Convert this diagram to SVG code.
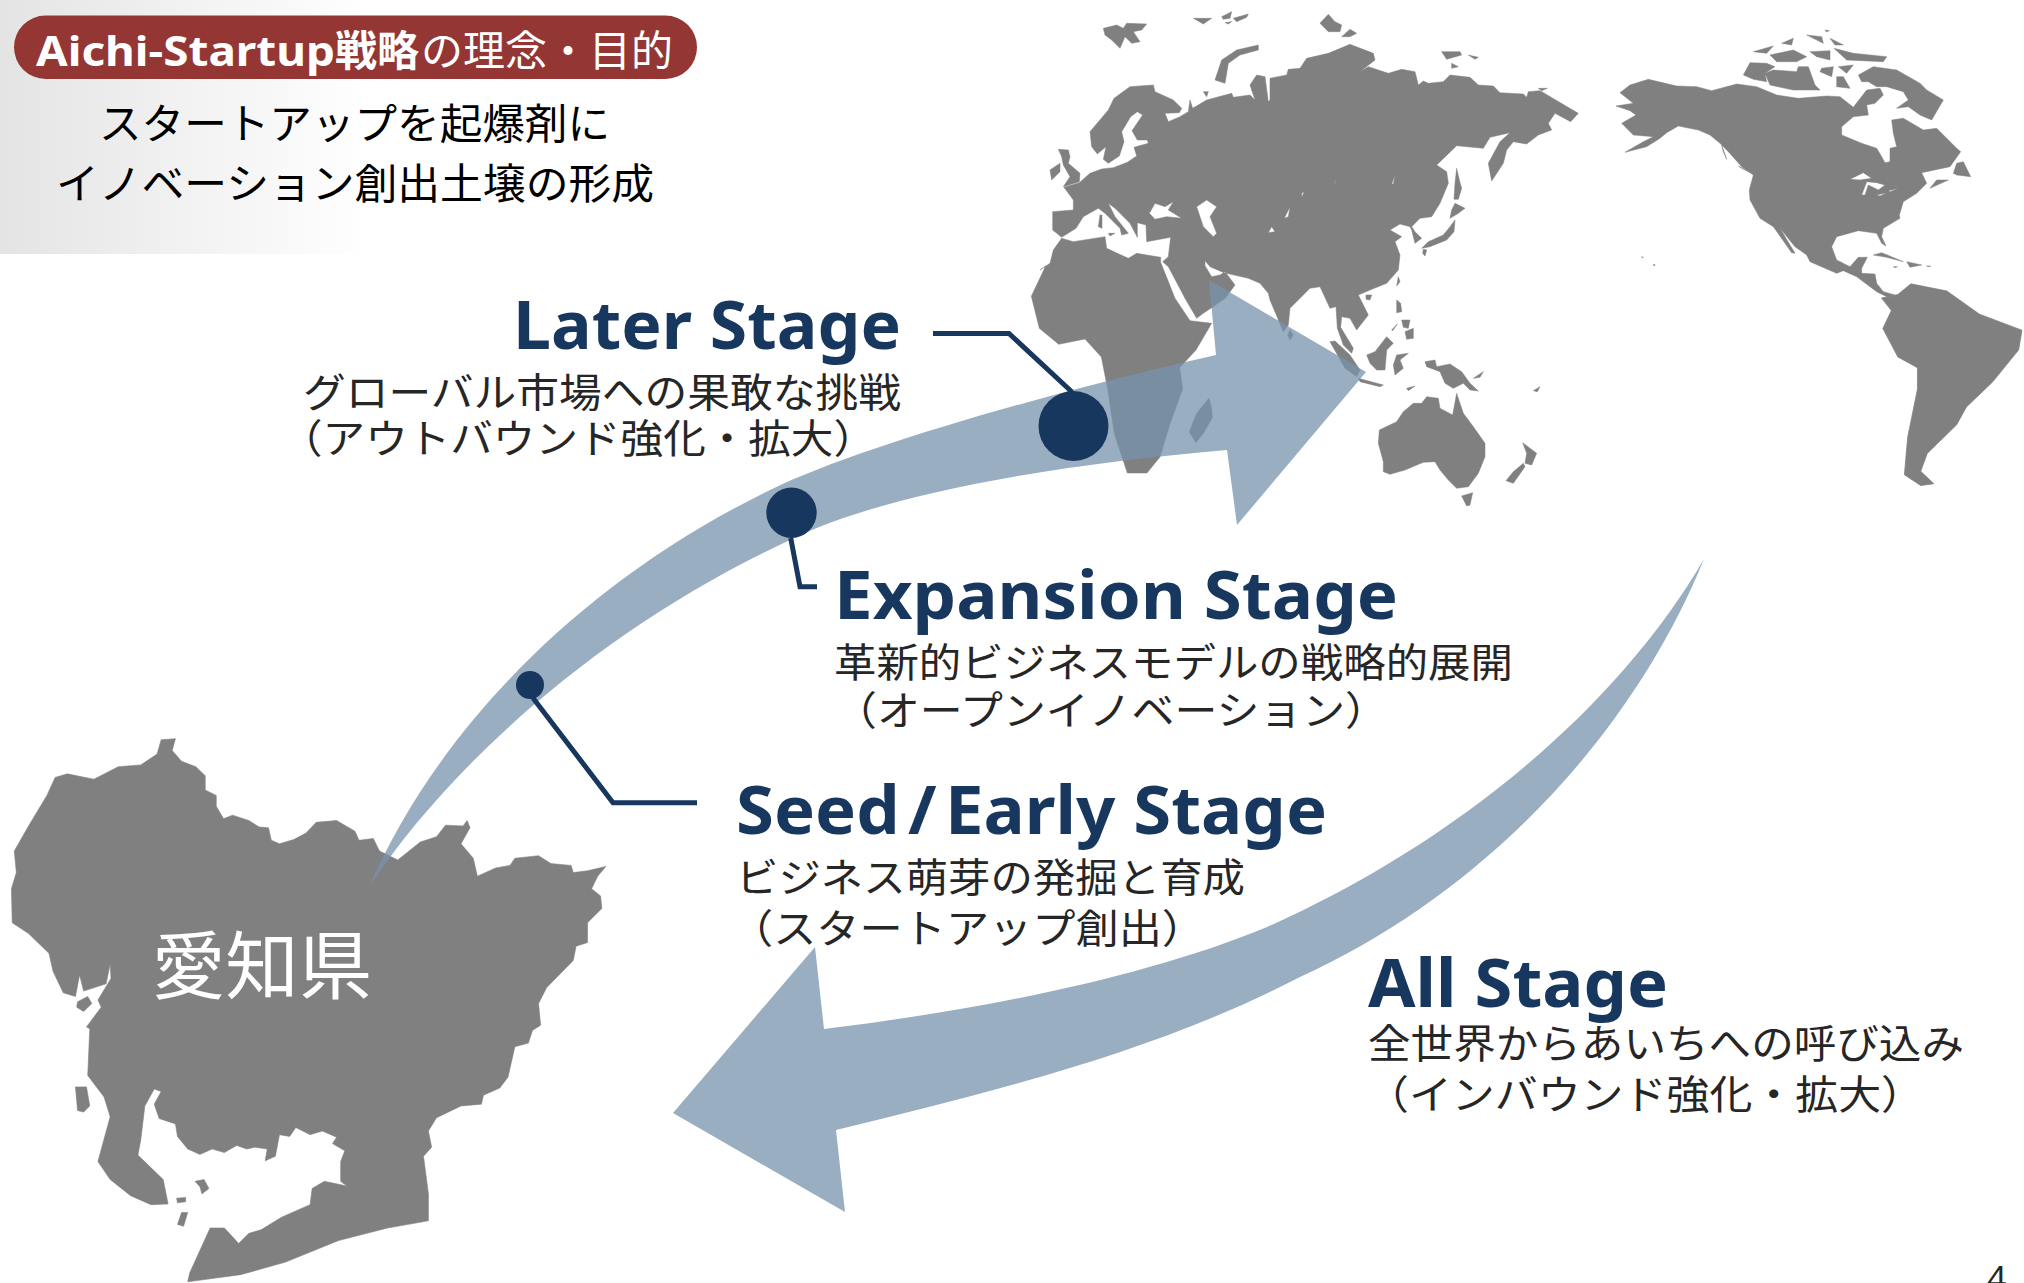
<svg xmlns="http://www.w3.org/2000/svg" width="2024" height="1283" viewBox="0 0 2024 1283">
<style>
.land{fill:#808080;stroke:#808080;stroke-width:1.500;stroke-linejoin:round}
.arrow{fill:#7893ac;fill-opacity:.75}
.leader{fill:none;stroke:#17375e;stroke-width:5}
.dot{fill:#17375e}
.stage{font-family:"Noto Sans","Noto Sans CJK JP",sans-serif;font-weight:700;font-size:66px;fill:#17375e}
.sub{font-family:"Noto Sans CJK JP",sans-serif;font-size:40px;fill:#262626}
.lead{font-family:"Noto Sans CJK JP",sans-serif;font-size:42px;fill:#000}
</style>
<defs>
<linearGradient id="fade" x1="0" y1="0" x2="1" y2="0"><stop offset="0" stop-color="#e4e4e4"/><stop offset="1" stop-color="#fff"/></linearGradient>
</defs>
<rect id="header-band" x="0" y="0" width="370" height="254" fill="url(#fade)"/>
<g id="header-pill">
<rect x="14" y="15.500" width="683" height="63.500" rx="31.700" fill="#943634"/>
<text y="66" font-size="42" fill="#fff" font-family="'Noto Sans','Noto Sans CJK JP',sans-serif"><tspan x="36" font-weight="700" textLength="299" lengthAdjust="spacingAndGlyphs">Aichi-Startup</tspan><tspan x="335" font-weight="700">戦略</tspan><tspan x="421" font-family="'Noto Sans CJK JP',sans-serif" font-weight="400">の理念・目的</tspan></text>
</g>
<g id="header-text">
<text class="lead" x="99" y="139" textLength="511" lengthAdjust="spacingAndGlyphs">スタートアップを起爆剤に</text>
<text class="lead" x="56" y="199" textLength="598" lengthAdjust="spacingAndGlyphs">イノベーション創出土壌の形成</text>
</g>
<g id="world-map">
<g class="land" transform="translate(1040 0) scale(.33333)">
<path fill-rule="evenodd" d="M38,635L100,630L100,600L72,562L118,548L150,520L185,507L220,503L262,487L290,468L282,442L325,430L322,420L292,420L276,392L308,345L292,335L272,350L245,395L252,425L238,468L205,490L190,478L198,440L172,462L155,440L150,395L205,330L222,295L270,260L340,255L345,275L400,300L425,325L418,338L375,340L385,365L420,350L445,335L450,300L458,325L500,300L575,280L580,292L630,285L645,300L630,255L650,225L675,230L685,305L690,300L690,235L740,225L745,208L780,205L800,175L865,160L930,133L1000,160L1005,180L960,215L985,200L1045,220L1085,208L1125,215L1135,255L1150,243L1165,250L1210,245L1230,225L1290,232L1315,255L1360,258L1380,278L1450,282L1460,292L1465,275L1500,272L1615,340L1592,365L1545,340L1525,370L1535,390L1495,405L1460,432L1420,425L1400,450L1390,490L1355,543L1345,490L1380,425L1410,398L1380,405L1350,412L1330,445L1250,437L1190,495L1220,515L1225,550L1200,610L1175,650L1140,655L1115,680L1125,695L1145,715L1125,730L1115,690L1110,680L1080,672L1050,690L1085,710L1065,725L1080,765L1075,810L1040,850L990,870L955,885L985,945L950,990L930,955L905,950L902,982L940,1045L935,1060L910,1035L892,985L888,920L870,925L840,860L810,865L750,925L745,975L730,995L690,900L685,880L660,850L625,835L560,820L545,815L510,800L495,782L495,797L515,830L540,825L555,815L585,855L556,895L487,942L470,955L435,895L385,800L368,785L385,770L392,712L320,725L318,675L292,668L292,712L270,670L225,625L205,610L225,650L265,700L245,705L240,685L195,640L175,625L130,650L108,685L65,712L38,690Z M345,610L375,620L400,605L385,630L425,655L380,650L345,658L328,640Z M470,620L500,600L530,620L510,650L530,700L520,710L490,680L480,650Z M733,655L750,620L745,650Z M785,580L792,575L786,592Z M695,680L705,695L685,698Z M883,550L890,537L885,550Z M1065,525L1055,553L1060,552Z"/>
<path d="M0,810L30,790L40,750L65,715L100,725L195,710L200,745L265,775L290,760L362,772L362,787L405,895L450,962L515,970L468,1050L419,1103L428,1167L389,1274L360,1371L321,1419L262,1419L223,1301L203,1167L184,1071L135,1017L56,1033L-2,985L-26,889L17,798Z"/>
<path d="M190,85L230,75L250,85L260,70L320,72L305,90L280,95L300,125L275,130L255,110L240,145L215,120L195,105Z M460,55L515,55L490,72Z M545,50L575,35L570,55L550,58Z M555,68L575,65L565,72Z M580,55L625,42L620,52L590,65Z M655,135L655,150L600,165L565,190L555,250L525,240L545,180L590,150Z M490,275L505,275L500,290Z M840,70L865,43L885,65L905,75L900,95L865,95Z M905,110L930,88L950,100L930,110Z M1205,155L1260,155L1265,165L1220,178Z M1235,190L1255,200L1235,205Z M1285,165L1315,172L1305,178Z M1495,265L1522,265L1505,272Z M55,448L85,450L90,470L85,490L120,520L118,545L70,560L90,530L70,495L65,470Z M30,510L60,490L60,515L35,540Z M180,645L186,645L186,685L175,680Z M205,700L225,700L210,708Z M1250,505L1258,540L1265,565L1255,598L1242,598L1245,550Z M1245,610L1275,625L1255,640L1230,655L1235,630Z M1245,660L1242,695L1220,720L1170,740L1145,745L1165,725L1210,705L1230,680Z M1150,748L1160,750L1155,768L1148,760Z M1075,830L1080,845L1070,858Z M978,885L995,885L990,900L978,898Z M1070,900L1082,910L1085,935L1070,938Z M1095,995L1120,985L1120,1015L1100,1018Z M1085,960L1110,960L1105,985L1090,982Z M1055,990L1072,972L1058,992Z M870,1025L885,1023L930,1065L960,1110L950,1130L915,1105Z M955,1135L1030,1155L1020,1160L960,1145Z M1100,1165L1125,1158L1105,1172Z M980,1065L1005,1055L1040,1010L1060,1030L1040,1050L1035,1110L1010,1110L990,1090Z M1070,1065L1105,1060L1080,1080L1090,1105L1065,1125L1060,1095Z M1155,1085L1185,1080L1190,1100L1230,1092L1265,1115L1290,1150L1315,1173L1290,1170L1270,1150L1240,1165L1215,1150L1200,1115L1160,1100Z M1300,1135L1330,1115L1320,1132Z M1480,1172L1500,1160L1492,1175Z M1018,1290L1070,1265L1090,1235L1120,1210L1145,1210L1160,1190L1195,1195L1200,1225L1238,1245L1250,1180L1270,1240L1300,1280L1335,1330L1335,1370L1315,1420L1285,1460L1250,1465L1225,1440L1200,1410L1185,1385L1150,1387L1095,1410L1050,1423L1030,1415L1030,1385L1015,1330Z M1265,1488L1298,1478L1290,1515L1280,1518Z M1448,1328L1490,1360L1475,1395L1455,1390L1460,1360Z M1450,1390L1455,1400L1420,1450L1398,1442L1420,1415Z M507,1194L515,1225L517,1253L490,1300L468,1328L448,1296L470,1240Z M750,990L760,1005L750,1020L743,1005Z"/>
</g>
<g class="land" transform="translate(1610 20) scale(.33333)">
<path fill-rule="evenodd" d="M30,218L60,195L115,178L200,198L260,200L305,212L380,192L440,200L500,225L565,235L650,228L690,230L730,262L770,210L810,205L820,225L795,250L770,255L775,285L730,290L695,320L695,345L755,370L800,385L812,405L825,428L840,425L840,385L860,380L850,340L845,300L880,295L940,330L980,325L1040,385L1052,395L1020,440L935,458L950,490L920,520L880,545L868,585L870,595L820,625L815,650L828,678L815,670L800,640L745,632L680,650L665,680L680,720L720,740L745,712L772,712L755,745L755,760L795,762L800,790L820,815L855,825L830,830L800,815L740,770L700,752L680,760L600,725L590,705L555,680L510,625L555,700L545,698L490,620L450,595L420,540L418,510L430,465L395,440L355,395L330,370L300,345L265,330L205,318L170,338L150,355L110,380L45,397L100,365L130,350L70,345L35,310L78,285L60,272L18,258L70,250Z M720,478L760,458L785,475L750,480Z M755,525L770,485L800,488L825,495L805,510L775,495L765,525Z M800,525L830,518L810,528Z M835,512L865,505L840,515Z M385,438L430,462L395,445Z M335,375L350,418L340,395Z"/>
<path d="M400,165L420,128L470,130L495,140L465,160L470,185L430,178Z M465,160L490,150L560,155L565,140L595,140L615,195L630,210L550,210L480,195Z M680,170L700,170L720,205L680,200Z M635,145L670,140L665,170L630,155Z M685,140L730,135L710,160Z M430,95L490,78L470,100Z M480,105L550,90L590,110L560,125L500,125Z M600,95L660,92L660,120L620,110Z M515,70L550,55L545,75Z M590,45L635,50L640,70Z M660,55L700,75L675,75Z M672,85L730,100L830,110L820,125L710,120Z M745,165L790,140L860,150L930,190L950,210L1000,240L965,300L930,285L895,260L860,265L895,240L880,215L830,200L800,200L775,185L755,185Z M1040,430L1060,425L1082,470L1040,465L1030,460Z M960,505L1015,480L980,480Z M790,705L815,698L880,725L830,712Z M890,725L935,735L900,742Z M850,740L862,740L856,743Z M950,738L962,738L956,740Z M95,710L100,712L98,714Z M130,733L136,735L131,737Z M645,30L658,32L650,36Z"/>
</g>
<g class="land" transform="translate(1000 0) scale(.653 .357)">
<path d="M1375,825L1395,795L1450,815L1500,880L1565,925L1560,980L1520,1070L1480,1140L1465,1190L1420,1270L1410,1320L1430,1355L1410,1360L1385,1330L1390,1225L1405,1090L1405,1030L1375,1000L1352,920L1365,870L1350,835Z"/>
</g>
</g>
<g id="aichi-map">
<g class="land" transform="translate(0 720) scale(.408 .359)">
<path d="M395,55L430,52L422,85L445,115L480,130L503,155L503,195L530,210L530,240L548,275L570,265L610,280L635,298L658,300L665,335L685,345L720,333L750,315L775,285L825,280L870,310L880,335L915,330L930,365L975,390L1030,340L1070,325L1092,293L1135,295L1145,280L1152,300L1130,345L1160,385L1170,435L1215,412L1250,405L1262,385L1320,378L1350,400L1400,405L1405,425L1440,420L1485,408L1465,435L1450,470L1472,490L1475,525L1440,565L1440,620L1412,630L1405,670L1375,705L1340,745L1320,790L1325,850L1305,865L1295,900L1262,910L1245,995L1225,1025L1185,1045L1180,1070L1130,1075L1070,1108L1050,1145L1058,1190L1038,1215L1050,1320L1050,1395L950,1415L830,1450L700,1510L590,1545L460,1565L465,1540L515,1415L550,1415L585,1458L610,1430L640,1420L690,1385L760,1350L765,1305L795,1285L850,1298L835,1285L835,1230L845,1200L815,1180L825,1162L790,1145L760,1155L725,1135L710,1160L685,1155L675,1215L650,1228L655,1195L625,1190L605,1195L580,1185L550,1205L520,1195L490,1210L460,1195L435,1160L430,1125L390,1110L378,1070L395,1035L378,1028L355,1075L345,1170L338,1212L400,1280L412,1348L370,1350L320,1325L270,1280L240,1230L270,1105L255,1050L215,990L220,860L212,855L248,800L240,780L272,720L270,680L260,735L205,755L195,710L185,770L155,760L130,700L120,650L70,595L30,565L28,470L40,425L35,365L70,295L115,210L135,160L165,150L230,165L290,130L345,125L385,95Z"/>
<path d="M190,785L215,770L225,790L205,812L188,800Z M185,1022L212,1022L220,1075L205,1092L190,1088Z M478,1285L500,1280L512,1305L495,1320L490,1300Z M433,1332L455,1330L455,1342L435,1345Z M445,1372L460,1372L450,1410L435,1405Z"/>
</g>
<text id="aichi-label" x="152" y="993" font-size="74" fill="#fff" font-family="'Noto Sans CJK JP',sans-serif" textLength="220" lengthAdjust="spacingAndGlyphs">愛知県</text>
</g>
<g id="connectors">
<path id="arrow-out" class="arrow" d="M369,887C435,735 575,585 770,490C860,446 1060,390 1216,355L1209,280L1366,372L1237,525L1227,450C1050,465 880,495 790,540C600,628 450,765 369,887Z"/>
<path id="arrow-in" class="arrow" d="M1704,559C1610,720 1440,850 1267,927C1147,977 980,1010 824,1029L815,947L673,1113L845,1212L836,1130C1000,1090 1160,1050 1300,977C1480,895 1630,740 1704,559Z"/>
<path class="leader" d="M933,333.500H1009L1072,392"/>
<path class="leader" d="M790.700,538L800,586.700H817"/>
<path class="leader" d="M533,698L613,802.700H697"/>
</g>
<g id="later-stage">
<circle class="dot" cx="1073.500" cy="426" r="35"/>
<text class="stage" x="513" y="348.500" textLength="388" lengthAdjust="spacingAndGlyphs">Later Stage</text>
<text class="sub" x="303" y="406.500" textLength="598" lengthAdjust="spacingAndGlyphs">グローバル市場への果敢な挑戦</text>
<text class="sub" x="280" y="453" textLength="596" lengthAdjust="spacingAndGlyphs">（アウトバウンド強化・拡大）</text>
</g>
<g id="expansion-stage">
<circle class="dot" cx="791.500" cy="512.700" r="25.200"/>
<text class="stage" x="834" y="619" textLength="564" lengthAdjust="spacingAndGlyphs">Expansion Stage</text>
<text class="sub" x="834" y="677" textLength="679" lengthAdjust="spacingAndGlyphs">革新的ビジネスモデルの戦略的展開</text>
<text class="sub" x="834" y="724.500" textLength="554" lengthAdjust="spacingAndGlyphs">（オープンイノベーション）</text>
</g>
<g id="seed-stage">
<circle class="dot" cx="530" cy="685" r="14"/>
<text class="stage" x="736" y="833.500" textLength="591" lengthAdjust="spacingAndGlyphs">Seed<tspan dx="8">/</tspan><tspan dx="8">Early Stage</tspan></text>
<text class="sub" x="736" y="891.500" textLength="509" lengthAdjust="spacingAndGlyphs">ビジネス萌芽の発掘と育成</text>
<text class="sub" x="730" y="942.500" textLength="475" lengthAdjust="spacingAndGlyphs">（スタートアップ創出）</text>
</g>
<g id="all-stage">
<text class="stage" x="1368" y="1007" textLength="300" lengthAdjust="spacingAndGlyphs">All Stage</text>
<text class="sub" x="1368" y="1057.500" textLength="596" lengthAdjust="spacingAndGlyphs">全世界からあいちへの呼び込み</text>
<text class="sub" x="1366" y="1108.500" textLength="558" lengthAdjust="spacingAndGlyphs">（インバウンド強化・拡大）</text>
</g>
<text id="page-number" x="1987" y="1291" font-size="34" fill="#262626" font-family="'Noto Sans',sans-serif">4</text>
</svg>
